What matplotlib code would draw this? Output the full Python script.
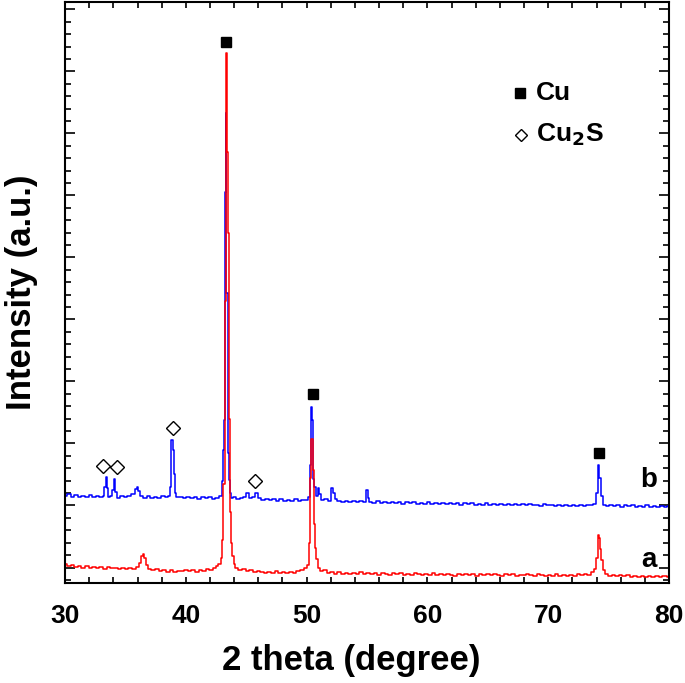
import matplotlib
matplotlib.use('Agg')
import matplotlib.pyplot as plt
from matplotlib.ticker import MultipleLocator, NullFormatter

plt.rcParams['font.family'] = ['Liberation Sans', 'DejaVu Sans']
plt.rcParams['font.weight'] = 'bold'

# pattern a (red)
a_2theta = [30.0, 30.3, 30.6, 30.9, 31.2, 31.5, 31.8, 32.1, 32.4, 32.7, 33.0, 33.3, 33.6, 33.9,
            34.2, 34.5, 34.8, 35.1, 35.4, 35.7, 36.0, 36.2, 36.35, 36.5, 36.65, 36.8, 37.0, 37.3,
            37.6, 37.9, 38.2, 38.5, 38.8, 39.1, 39.4, 39.7, 40.0, 40.3, 40.6, 40.9, 41.2, 41.5,
            41.8, 42.1, 42.4, 42.6, 42.8, 42.95, 43.05, 43.15, 43.25, 43.35, 43.45, 43.5, 43.6,
            43.7, 43.8, 43.9, 44.0, 44.2, 44.5, 44.8, 45.1, 45.4, 45.7, 46.0, 46.3, 46.6, 46.9,
            47.2, 47.5, 47.8, 48.1, 48.4, 48.7, 49.0, 49.3, 49.6, 49.9, 50.1, 50.25, 50.35, 50.45,
            50.55, 50.65, 50.75, 50.85, 51.0, 51.2, 51.5, 51.8, 52.1, 52.4, 52.7, 53.0, 53.3,
            53.6, 53.9, 54.2, 54.5, 54.8, 55.1, 55.4, 55.7, 56.0, 56.3, 56.6, 56.9, 57.2, 57.5,
            57.8, 58.1, 58.4, 58.7, 59.0, 59.3, 59.6, 59.9, 60.2, 60.5, 60.8, 61.1, 61.4, 61.7,
            62.0, 62.3, 62.6, 62.9, 63.2, 63.5, 63.8, 64.1, 64.4, 64.7, 65.0, 65.3, 65.6, 65.9,
            66.2, 66.5, 66.8, 67.1, 67.4, 67.7, 68.0, 68.3, 68.6, 68.9, 69.2, 69.5, 69.8, 70.1,
            70.4, 70.7, 71.0, 71.3, 71.6, 71.9, 72.2, 72.5, 72.8, 73.1, 73.4, 73.7, 73.9, 74.05,
            74.15, 74.25, 74.35, 74.45, 74.6, 74.8, 75.1, 75.4, 75.7, 76.0, 76.3, 76.6, 76.9,
            77.2, 77.5, 77.8, 78.1, 78.4, 78.7, 79.0, 79.3, 79.6, 80.0]
a_int = [60, 30, 45, 10, 25, 0, 20, -10, 15, -5, 10, -20, 5, -15,
         0, -25, -5, -30, -10, -20, 10, 80, 180, 215, 150, 40, -20, -45,
         -30, -60, -40, -65, -45, -70, -50, -60, -35, -60, -45, -70, -40, -55,
         -30, -45, -10, 20, 60, 150, 450, 1350, 4300, 8290, 6700, 5400, 2400,
         900, 400, 180, 60, 0, -40, -20, -60, -45, -75, -55, -70, -90, -65,
         -85, -60, -90, -75, -95, -70, -85, -60, -40, -10, 40, 400, 1450, 2080,
         1570, 700, 320, 140, 0, -60, -40, -90, -70, -100, -80, -105, -85,
         -110, -90, -100, -75, -105, -85, -110, -95, -115, -90, -105, -120, -95, -110,
         -90, -115, -100, -120, -95, -110, -125, -100, -115, -95, -120, -105, -125, -100,
         -115, -130, -105, -120, -100, -125, -110, -130, -105, -120, -110, -125, -100, -120,
         -135, -110, -125, -105, -130, -115, -125, -105, -120, -130, -110, -125, -140, -115,
         -130, -110, -135, -120, -140, -115, -130, -110, -125, -100, -115, -80, -20, 150,
         520, 480, 300, 120, -40, -100, -130, -115, -140, -120, -145, -125, -150,
         -130, -155, -135, -150, -130, -160, -140, -150, -135, -155]

# pattern b (blue)
b_2theta = [30.0, 30.3, 30.6, 30.9, 31.2, 31.5, 31.8, 32.1, 32.4, 32.7, 33.0, 33.2, 33.3, 33.4,
            33.5, 33.6, 33.8, 34.0, 34.1, 34.2, 34.4, 34.7, 35.0, 35.3, 35.6, 35.9, 36.0, 36.1,
            36.3, 36.6, 36.9, 37.2, 37.5, 37.8, 38.1, 38.4, 38.6, 38.75, 38.85, 38.95, 39.05,
            39.15, 39.3, 39.6, 39.9, 40.2, 40.5, 40.8, 41.1, 41.4, 41.7, 42.0, 42.3, 42.6, 42.9,
            43.05, 43.12, 43.18, 43.25, 43.32, 43.4, 43.5, 43.6, 43.7, 43.85, 44.0, 44.3, 44.6,
            44.9, 45.1, 45.3, 45.6, 45.9, 46.1, 46.4, 46.7, 47.0, 47.3, 47.6, 47.9, 48.2, 48.5,
            48.8, 49.1, 49.4, 49.7, 50.0, 50.2, 50.3, 50.4, 50.5, 50.6, 50.7, 50.8, 51.0, 51.1,
            51.3, 51.6, 51.9, 52.1, 52.25, 52.4, 52.7, 53.0, 53.3, 53.6, 53.9, 54.2, 54.5, 54.8,
            55.0, 55.1, 55.3, 55.6, 55.9, 56.2, 56.5, 56.8, 57.1, 57.4, 57.7, 58.0, 58.3, 58.6,
            58.9, 59.2, 59.5, 59.8, 60.1, 60.4, 60.7, 61.0, 61.3, 61.6, 61.9, 62.2, 62.5, 62.8,
            63.1, 63.4, 63.7, 64.0, 64.3, 64.6, 64.9, 65.2, 65.5, 65.8, 66.1, 66.4, 66.7, 67.0,
            67.3, 67.6, 67.9, 68.2, 68.5, 68.8, 69.1, 69.4, 69.7, 70.0, 70.3, 70.6, 70.9, 71.2,
            71.5, 71.8, 72.1, 72.4, 72.7, 73.0, 73.3, 73.6, 73.9, 74.05, 74.15, 74.3, 74.45,
            74.6, 74.9, 75.2, 75.5, 75.8, 76.1, 76.4, 76.7, 77.0, 77.3, 77.6, 77.9, 78.2, 78.5,
            78.8, 79.1, 79.4, 79.7, 80.0]
b_int = [1150, 1180, 1140, 1170, 1130, 1160, 1140, 1175, 1135, 1160, 1140, 1150, 1300, 1460,
         1280, 1130, 1150, 1250, 1430, 1220, 1120, 1160, 1130, 1155, 1180, 1260, 1300, 1240,
         1150, 1125, 1150, 1120, 1145, 1125, 1150, 1130, 1150, 1300, 2050, 1900, 1500,
         1200, 1130, 1145, 1120, 1140, 1115, 1135, 1110, 1130, 1115, 1130, 1110, 1125, 1150,
         1400, 1900, 2380, 6050, 7330, 4420, 1850, 1410, 1200, 1120, 1140, 1100, 1120,
         1140, 1200, 1120, 1140, 1200, 1120, 1090, 1110, 1085, 1105, 1080, 1100, 1075, 1095,
         1080, 1100, 1075, 1095, 1090, 1140, 1650, 2590, 2380, 1420, 1300, 1150, 1280, 1180,
         1090, 1100, 1080, 1290, 1200, 1110, 1080, 1060, 1080, 1055, 1075, 1050, 1070, 1055,
         1250, 1120, 1060, 1040, 1065, 1045, 1060, 1035, 1055, 1040, 1060, 1030, 1050, 1035,
         1055, 1030, 1045, 1025, 1050, 1030, 1045, 1020, 1040, 1025, 1045, 1020, 1035, 1015,
         1040, 1020, 1035, 1010, 1030, 1015, 1035, 1010, 1025, 1005, 1030, 1010, 1025, 1000,
         1020, 1005, 1025, 1000, 1020, 1000, 1015, 995, 1020, 1000, 1015, 990, 1010, 995,
         1015, 990, 1010, 995, 1015, 990, 1010, 1000, 1030, 1200, 1650, 1450, 1150,
         1010, 995, 1010, 985, 1005, 980, 1000, 985, 1000, 975, 995, 980, 1000, 975,
         995, 980, 990, 975, 985]

# phase markers
cu_2theta = [43.3, 50.5, 74.2]
cu_mark_y = [8470, 2800, 1850]
cu2s_2theta = [33.1, 34.3, 38.9, 45.7]
cu2s_mark_y = [1640, 1620, 2250, 1390]

fig = plt.figure(figsize=(6.85, 6.83), dpi=100)
ax = fig.add_axes([0.095, 0.1464, 0.8816, 0.8507])

ax.plot(b_2theta, b_int, color='blue', lw=1.1, drawstyle='steps-mid')
ax.plot(a_2theta, a_int, color='red', lw=1.1, drawstyle='steps-mid')

ax.plot(cu_2theta, cu_mark_y, 's', color='black', ms=7, ls='none')
ax.plot(cu2s_2theta, cu2s_mark_y, 'D', mfc='white', mec='black', mew=1.0, ms=7, ls='none')

ax.text(78.3, 1410, 'b', fontsize=20, fontweight='bold', ha='center', va='center')
ax.text(78.3, 120, 'a', fontsize=20, fontweight='bold', ha='center', va='center')

# legend
ax.plot([0.753], [0.843], 's', color='black', ms=7, transform=ax.transAxes)
ax.plot([0.755], [0.771], 'D', mfc='white', mec='black', mew=1.0, ms=6, transform=ax.transAxes)
ax.text(0.78, 0.843, 'Cu', transform=ax.transAxes, fontsize=19, fontweight='bold', va='center')
ax.text(0.78, 0.771, 'Cu$_\\mathbf{2}$S', transform=ax.transAxes, fontsize=19,
        fontweight='bold', va='center')

ax.set_xlim(30, 80)
ax.set_ylim(-250, 9120)
ax.xaxis.set_major_locator(MultipleLocator(10))
ax.xaxis.set_minor_locator(MultipleLocator(2))
ax.yaxis.set_major_locator(MultipleLocator(1000))
ax.yaxis.set_minor_locator(MultipleLocator(200))
ax.yaxis.set_major_formatter(NullFormatter())
ax.tick_params(axis='both', which='both', direction='in', top=True, right=True, width=1.2)
ax.tick_params(axis='x', which='both', length=4, labelsize=19, pad=15)
ax.tick_params(axis='y', which='major', length=7)
ax.tick_params(axis='y', which='minor', length=4)
for lab in ax.get_xticklabels():
    lab.set_fontweight('bold')
for sp in ax.spines.values():
    sp.set_linewidth(1.5)

ax.set_xlabel('2 theta (degree)', fontsize=25, fontweight='bold')
ax.xaxis.set_label_coords(0.474, -0.105)
ax.set_ylabel('Intensity (a.u.)', fontsize=25, fontweight='bold', labelpad=16)

plt.savefig('out.png', dpi=100)
